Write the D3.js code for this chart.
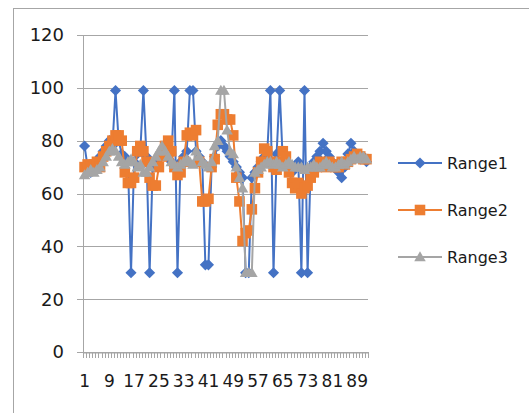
<!DOCTYPE html>
<html>
<head>
<meta charset="utf-8">
<script src="https://cdn.jsdelivr.net/npm/d3@7"></script>
<style>
  html, body { margin: 0; padding: 0; background: #fff; }
  svg { display: block; }
  text { font-family: "DejaVu Sans", Verdana, sans-serif; fill: #1a1a1a; }
</style>
</head>
<body>
<svg id="chart" width="529" height="413"></svg>
<script>
// Category labels 1..92
const categories = d3.range(1, 93);

const range1 = [78, 70, 68, 70, 72, 74, 76, 78, 80, 78,
                99, 80, 75, 74, 72, 30, 72, 75, 76, 99,
                74, 30, 70, 72, 73, 76, 78, 74, 72, 99,
                30, 72, 74, 76, 99, 99, 76, 74, 72, 33,
                33, 70, 74, 78, 80, 78, 76, 74, 72, 70,
                68, 66, 30, 30, 66, 68, 70, 72, 74, 76,
                99, 30, 75, 99, 72, 70, 70, 68, 70, 72,
                30, 99, 30, 70, 72, 74, 76, 79, 76, 74,
                72, 70, 68, 66, 70, 75, 79, 76, 74, 73,
                74, 72];

const range2 = [70, 71, 70, 71, 72, 70, 74, 76, 78, 80,
                82, 82, 80, 68, 64, 64, 66, 76, 78, 76,
                72, 66, 63, 63, 70, 74, 78, 80, 76, 70,
                67, 68, 72, 82, 83, 82, 84, 72, 57, 57,
                58, 70, 73, 86, 90, 90, 88, 88, 82, 66,
                57, 42, 45, 46, 54, 62, 68, 72, 77, 76,
                72, 70, 69, 72, 76, 74, 68, 64, 62, 64,
                60, 62, 63, 66, 68, 70, 72, 71, 70, 72,
                71, 70, 70, 72, 71, 72, 73, 74, 75, 74,
                73, 73];

const range3 = [67, 68, 69, 68, 69, 70, 72, 74, 76, 77,
                76, 74, 72, 71, 72, 73, 72, 70, 71, 68,
                68, 70, 72, 74, 76, 78, 76, 74, 72, 71,
                70, 71, 72, 73, 72, 71, 76, 74, 72, 71,
                70, 72, 78, 80, 99, 99, 84, 76, 75, 70,
                66, 62, 30, 30, 30, 68, 69, 70, 71, 72,
                72, 71, 72, 71, 70, 71, 72, 71, 70, 70,
                70, 69, 70, 70, 71, 70, 70, 71, 72, 71,
                70, 70, 71, 72, 71, 72, 73, 74, 73, 74,
                74, 73];

const seriesNames = ["Range1", "Range2", "Range3"];
const yTicks = [0, 20, 40, 60, 80, 100, 120];
const xTickLabels = categories.filter(c => (c - 1) % 8 === 0);

const series = [
  { name: seriesNames[0], values: range1, color: "#4472C4", marker: "diamond" },
  { name: seriesNames[1], values: range2, color: "#ED7D31", marker: "square" },
  { name: seriesNames[2], values: range3, color: "#A5A5A5", marker: "triangle" }
];

const svg = d3.select("#chart");

// Chart area border
svg.append("rect")
  .attr("x", 13.5).attr("y", 8.5)
  .attr("width", 540).attr("height", 420)
  .attr("fill", "none").attr("stroke", "#a6a6a6").attr("stroke-width", 1);

const plot = { left: 83, right: 368, top: 35, bottom: 352 };

const x = d3.scaleBand().domain(categories).range([plot.left, plot.right]).padding(0);
const y = d3.scaleLinear().domain([0, 120]).range([plot.bottom, plot.top]);

// Horizontal gridlines
svg.append("g").selectAll("line").data(yTicks).join("line")
  .attr("x1", plot.left - 6).attr("x2", plot.right)
  .attr("y1", d => Math.round(y(d)) + 0.5).attr("y2", d => Math.round(y(d)) + 0.5)
  .attr("stroke", "#a6a6a6").attr("stroke-width", 1);

// Value axis line
svg.append("line")
  .attr("x1", plot.left + 0.5).attr("x2", plot.left + 0.5)
  .attr("y1", plot.top).attr("y2", plot.bottom + 6)
  .attr("stroke", "#a6a6a6");

// Value axis labels
svg.append("g").selectAll("text").data(yTicks).join("text")
  .attr("x", 64).attr("y", d => y(d))
  .attr("dy", "0.36em")
  .attr("text-anchor", "end")
  .attr("font-size", 18)
  .text(d => d);

// Category axis with a tick at each category boundary
const xAxis = d3.axisBottom(x)
  .tickValues(xTickLabels)
  .tickSize(0)
  .tickPadding(22)
  .tickFormat(d => d);
const gx = svg.append("g")
  .attr("transform", `translate(0,${Math.round(y(0)) + 0.5})`)
  .call(xAxis);
gx.select(".domain").attr("stroke", "#a6a6a6");
gx.selectAll("text").attr("font-size", 17).attr("fill", "#1a1a1a")
  .attr("font-family", "'DejaVu Sans', Verdana, sans-serif");

svg.append("g").selectAll("line")
  .data(categories.concat([categories.length + 1]))
  .join("line")
  .attr("x1", d => Math.round(plot.left + (d - 1) * x.bandwidth()) + 0.5)
  .attr("x2", d => Math.round(plot.left + (d - 1) * x.bandwidth()) + 0.5)
  .attr("y1", Math.round(y(0)))
  .attr("y2", Math.round(y(0)) + 6)
  .attr("stroke", "#a6a6a6");

// Marker shapes
function markerPath(type) {
  if (type === "diamond") {
    return d3.symbol().type(d3.symbolSquare).size(62)();
  } else if (type === "square") {
    return d3.symbol().type(d3.symbolSquare).size(112)();
  }
  return d3.symbol().type(d3.symbolTriangle).size(58)();
}
function markerTransform(type, px, py) {
  if (type === "diamond") return `translate(${px},${py}) rotate(45)`;
  if (type === "triangle") return `translate(${px},${py + 1})`;
  return `translate(${px},${py})`;
}

const cx = c => x(c) + x.bandwidth() / 2;

series.forEach(s => {
  const pts = categories.map((c, i) => ({ c, v: s.values[i] }));
  const line = d3.line().x(d => cx(d.c)).y(d => y(d.v));
  svg.append("path")
    .datum(pts)
    .attr("d", line)
    .attr("fill", "none")
    .attr("stroke", s.color)
    .attr("stroke-width", 2)
    .attr("stroke-linejoin", "round");
  svg.append("g").selectAll("path").data(pts).join("path")
    .attr("d", markerPath(s.marker))
    .attr("transform", d => markerTransform(s.marker, cx(d.c), y(d.v)))
    .attr("fill", s.color);
});

// Legend
const legendY = [163, 210, 257];
const legend = svg.append("g");
series.forEach((s, i) => {
  const ly = legendY[i];
  legend.append("line")
    .attr("x1", 398).attr("x2", 442)
    .attr("y1", ly).attr("y2", ly)
    .attr("stroke", s.color).attr("stroke-width", 2);
  legend.append("path")
    .attr("d", markerPath(s.marker))
    .attr("transform", markerTransform(s.marker, 420, ly))
    .attr("fill", s.color);
  legend.append("text")
    .attr("x", 447).attr("y", ly)
    .attr("dy", "0.36em")
    .attr("font-size", 16)
    .text(s.name);
});
</script>
</body>
</html>
